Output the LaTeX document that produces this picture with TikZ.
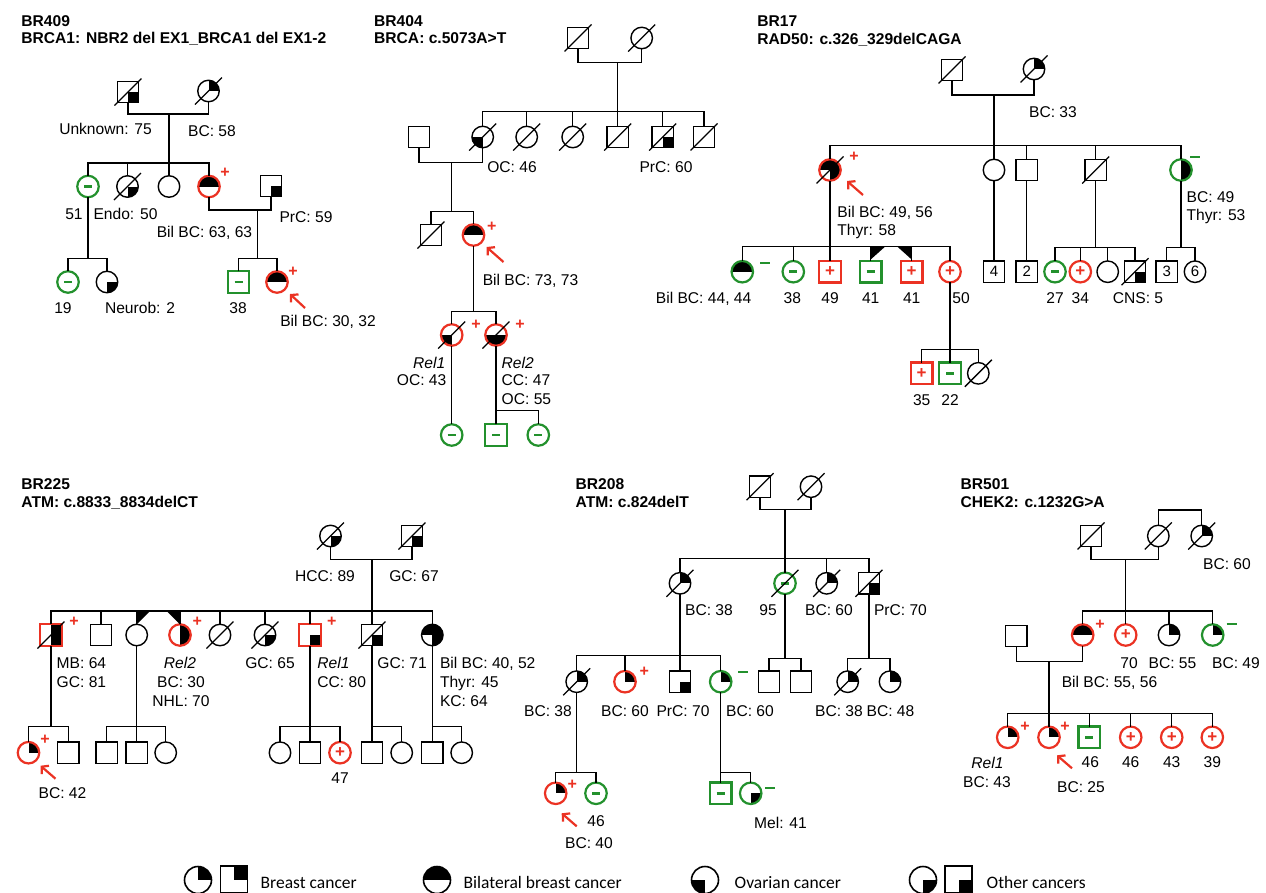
\documentclass[tikz,border=0pt]{standalone}
\usepackage{fontspec}
\setmainfont{Liberation Sans}
\newfontfamily\legfont{Carlito}
\usetikzlibrary{arrows.meta}
\definecolor{pred}{RGB}{235,50,35}
\definecolor{pgreen}{RGB}{35,145,45}
\newcommand\psize{10.75}
\newcommand\Fm[5][]{%
  \ifx\relax#1\relax\else
    \begin{scope}\clip #4 circle[radius=\psize];
      \foreach \qa/\qb in {#1}{\fill #4 rectangle ++(\psize*\qa,\psize*\qb);}
    \end{scope}\fi
  \node[fem,#2] (#3) at #4 {#5};}
\newcommand\Ml[5][]{%
  \ifx\relax#1\relax\else
    \foreach \qa/\qb in {#1}{\fill #4 rectangle ++(\psize*\qa,\psize*\qb);}\fi
  \node[mal,#2] (#3) at #4 {#5};}
\newcommand\Dec[1]{\draw[slash] ([shift={(-13.5,13.5)}]#1.center) -- ([shift={(13.5,-13.5)}]#1.center);}
\newcommand\Prob[5]{\draw[parrow] ([shift={(#2,#3)}]#1.center) -- ([shift={(#4,#5)}]#1.center);}
\newcommand\Lab[4][center]{\node[lab,anchor=#1] (#2) at #3 {#4};}
\newcommand\Pm[2]{\node[pmark] (#1) at #2 {+};}
\newcommand\Nm[2]{\node[nmark] (#1) at #2 {\rule{10pt}{2.2pt}};}
\newcommand\MI{\rule{8pt}{2.6pt}}
\begin{document}
\begin{tikzpicture}[x=1pt,y=-1pt,line width=1.4pt,
 ind/.style={minimum size=21.5pt,inner sep=0pt,outer sep=0pt,draw=black,font=\fontsize{15}{15}\selectfont},
 fem/.style={ind,circle},
 mal/.style={ind,rectangle},
 pcar/.style={draw=pred,text=pred,line width=2.2pt,font=\bfseries\fontsize{17}{17}\selectfont},
 ncar/.style={draw=pgreen,text=pgreen,line width=2.2pt},
 lab/.style={inner sep=0pt,text height=11.2pt,text depth=0pt,font=\fontsize{15.6}{18}\selectfont},
 ttl/.style={lab,anchor=west,font=\bfseries\fontsize{15.6}{18}\selectfont},
 slash/.style={line width=1.3pt},
 parrow/.style={draw=pred,line width=2.2pt,-{Straight Barb[length=5pt,width=11pt]}},
 pmark/.style={inner sep=0pt,text=pred,font=\bfseries\fontsize{16}{16}\selectfont},
 nmark/.style={inner sep=0pt,text=pgreen},
 legt/.style={inner sep=0pt,anchor=base west,font=\legfont\fontsize{17.5}{20}\selectfont},
 lsym/.style={minimum size=27pt,line width=1.6pt}
]
\fill[white] (0,0) rectangle (1266,892);
\useasboundingbox (0,0) rectangle (1266,892);

%% ================= BR409
\node[ttl] (tA1) at (20.7,20.8) {BR409};
\node[ttl] (tA2) at (20.7,38.3) {BRCA1: NBR2 del EX1\_BRCA1 del EX1-2};
\Ml[1/1]{}{A1}{(128,92)}{} \Dec{A1}
\Fm[1/-1]{}{A2}{(208.5,91)}{} \Dec{A2}
\coordinate (Am1) at (169,114);
\coordinate (As1) at (169,163);
\draw (A1.south) |- (Am1) -| (A2.south);
\draw (Am1) -- (As1);
\Fm{ncar}{A3}{(88,186.5)}{\MI}
\Fm[1/1]{}{A4}{(127.5,186.5)}{} \Dec{A4}
\Fm{}{A5}{(169,186.5)}{}
\Fm[-1/-1,1/-1]{pcar}{A6}{(209,186.5)}{}
\draw (A3.north) |- (As1) -| (A6.north);
\draw (A4.north) -- (A4.north |- As1);
\draw (A5.north) -- (As1);
\Ml[1/1]{}{A7}{(271,186)}{}
\coordinate (Am2) at (257.7,210);
\coordinate (As2) at (257.7,258.3);
\draw (A6.south) |- (Am2) -| (A7.south);
\draw (Am2) -- (As2);
\Ml{ncar}{A8}{(238.5,282)}{\MI}
\Fm[-1/-1,1/-1]{pcar}{A9}{(277,282)}{}
\draw (A8.north) |- (As2) -| (A9.north);
\coordinate (As3) at (88,258.3);
\draw (A3.south) -- (As3);
\Fm{ncar}{A10}{(68,282)}{\MI}
\Fm[1/1]{}{A11}{(107,282)}{}
\draw (A10.north) |- (As3) -| (A11.north);
\Pm{pA1}{(225,173)} \Pm{pA2}{(293,272)}
\Prob{A9}{28}{26}{13}{12}
\Lab{lA1}{(105.5,129)}{Unknown: 75}
\Lab{lA2}{(212,131)}{BC: 58}
\Lab{lA3}{(74,214)}{51}
\Lab{lA4}{(125.5,214)}{Endo: 50}
\Lab{lA5}{(306,217)}{PrC: 59}
\Lab{lA6}{(204.5,231.7)}{Bil BC: 63, 63}
\Lab{lA7}{(63,308)}{19}
\Lab{lA8}{(140,308)}{Neurob: 2}
\Lab{lA9}{(238,308)}{38}
\Lab{lA10}{(328,321)}{Bil BC: 30, 32}

%% ================= BR404
\node[ttl] (tB1) at (373.5,20.8) {BR404};
\node[ttl] (tB2) at (373.5,38.3) {BRCA: c.5073A>T};
\Ml{}{B1}{(578,38)}{} \Dec{B1}
\Fm{}{B2}{(641.7,38)}{} \Dec{B2}
\coordinate (Bm1) at (617.7,62.7); \coordinate (Bs1) at (617.7,111.7);
\draw (B1.south) |- (Bm1) -| (B2.south); \draw (Bm1) -- (Bs1);
\Fm[-1/1]{}{B3}{(482.7,137)}{} \Dec{B3}
\Fm{}{B4}{(526.7,137)}{} \Dec{B4}
\Fm{}{B5}{(572.7,137)}{} \Dec{B5}
\Ml{}{B6}{(617.7,137)}{} \Dec{B6}
\Ml[1/1]{}{B7}{(662.7,137)}{} \Dec{B7}
\Ml{}{B8}{(704,137)}{} \Dec{B8}
\draw (B3.north) |- (Bs1) -| (B8.north);
\foreach \nn in {B4,B5,B6,B7} \draw (\nn.north) -- (\nn.north |- Bs1);
\Ml{}{B9}{(419,137)}{}
\coordinate (Bm2) at (451.7,162.3); \coordinate (Bs2) at (451.7,211.7);
\draw (B9.south) |- (Bm2) -| (B3.south); \draw (Bm2) -- (Bs2);
\Ml{}{B10}{(431,235)}{} \Dec{B10}
\Fm[-1/-1,1/-1]{pcar}{B11}{(473.5,235)}{}
\draw (B10.north) |- (Bs2) -| (B11.north);
\coordinate (Bs3) at (473.5,311.7);
\draw (B11.south) -- (Bs3);
\Fm[-1/1]{pcar}{B12}{(451.7,335)}{} \Dec{B12}
\Fm[-1/1,1/1]{pcar}{B13}{(496,335)}{} \Dec{B13}
\draw (B12.north) |- (Bs3) -| (B13.north);
\Fm{ncar}{B14}{(451.7,435)}{\MI}
\draw (B12.south) -- (B14.north);
\coordinate (Bs4) at (496,410.7);
\Ml{ncar}{B15}{(496,435)}{\MI}
\Fm{ncar}{B16}{(538.3,435)}{\MI}
\draw (B13.south) -- (Bs4); \draw (B15.north) -- (Bs4) -| (B16.north);
\Pm{pB1}{(491.7,226.7)} \Pm{pB2}{(476,325)} \Pm{pB3}{(520,325)}
\Prob{B11}{30}{27}{13}{12}
\Lab{lB1}{(512,166.7)}{OC: 46}
\Lab{lB2}{(666,166.7)}{PrC: 60}
\Lab{lB3}{(530.5,280)}{Bil BC: 73, 73}
\Lab[east]{lB4}{(446,362.7)}{\itshape Rel1}
\Lab[east]{lB5}{(447,380)}{OC: 43}
\Lab[west]{lB6}{(501,362.7)}{\itshape Rel2}
\Lab[west]{lB7}{(501,380)}{CC: 47}
\Lab[west]{lB8}{(501,399.3)}{OC: 55}

%% ================= BR17
\node[ttl] (tC1) at (756.7,21.3) {BR17};
\node[ttl] (tC2) at (756.7,38.5) {RAD50: c.326\_329delCAGA};
\Ml{}{C1}{(952,70)}{} \Dec{C1}
\Fm[1/-1]{}{C2}{(1034,69)}{} \Dec{C2}
\coordinate (Cm1) at (994,95); \coordinate (Cs1) at (994,145.7);
\draw (C1.south) |- (Cm1) -| (C2.south); \draw (Cm1) -- (Cs1);
\Fm[-1/-1,1/-1,1/1]{pcar}{C3}{(830,170)}{} \Dec{C3}
\Fm{}{C4}{(994,170)}{}
\Ml{}{C5}{(1026.7,170)}{}
\Ml{}{C6}{(1095.7,170)}{} \Dec{C6}
\Fm[1/-1,1/1]{ncar}{C7}{(1181,170)}{}
\draw (C3.north) |- (Cs1) -| (C7.north);
\foreach \nn in {C4,C5,C6} \draw (\nn.north) -- (\nn.north |- Cs1);
\Pm{pC1}{(854,156.7)} \Nm{nC1}{(1195,156.7)}
\Prob{C3}{33}{25}{17}{11}
\Lab{lC1}{(1053,111.7)}{BC: 33}
\Lab[west]{lC2}{(836.7,212.3)}{Bil BC: 49, 56}
\Lab[west]{lC3}{(836.7,230)}{Thyr: 58}
\Lab[west]{lC4}{(1186,196.7)}{BC: 49}
\Lab[west]{lC5}{(1186,215)}{Thyr: 53}
\coordinate (Cs2) at (830,246.7); \draw (C3.south) -- (Cs2);
\Fm[-1/-1,1/-1]{ncar}{C8}{(742.3,271.7)}{}
\Fm{ncar}{C9}{(793.3,271.7)}{\MI}
\Ml{pcar}{C10}{(830,271.7)}{+}
\Ml{ncar}{C11}{(870.7,271.7)}{\MI}
\Ml{pcar}{C12}{(911.7,271.7)}{+}
\Fm{pcar}{C13}{(950,271.7)}{+}
\draw (C8.north) |- (Cs2) -| (C13.north);
\foreach \nn in {C9,C11,C12} \draw (\nn.north) -- (\nn.north |- Cs2);
\draw (C10.north) -- (Cs2);
\fill (870.7,246.7) -- (885,246.7) -- (870.7,259.5) -- cycle;
\fill (897.4,246.7) -- (911.7,246.7) -- (911.7,259.5) -- cycle;
\Nm{nC2}{(765,263.3)}
\Lab[east]{lC6}{(752,297.7)}{Bil BC: 44, 44}
\Lab{lC7}{(792.3,297.7)}{38}
\Lab{lC8}{(830,297.7)}{49}
\Lab{lC9}{(870.7,297.7)}{41}
\Lab{lC10}{(911.7,297.7)}{41}
\Lab{lC11}{(961,297.7)}{50}
\coordinate (Cs3) at (950,349.3); \draw (C13.south) -- (Cs3);
\Ml{pcar}{C14}{(921.7,373.3)}{+}
\Ml{ncar}{C15}{(950,373.3)}{\MI}
\Fm{}{C16}{(978.3,373.3)}{} \Dec{C16}
\draw (C14.north) |- (Cs3) -| (C16.north); \draw (C15.north) -- (Cs3);
\Lab{lC12}{(921.7,400)}{35}
\Lab{lC13}{(950,400)}{22}
\Ml{}{C17}{(994,271.7)}{4} \draw (C4.south) -- (C17.north);
\Ml{}{C18}{(1026.7,271.7)}{2} \draw (C5.south) -- (C18.north);
\coordinate (Cs4) at (1095.7,247.3); \draw (C6.south) -- (Cs4);
\Fm{ncar}{C19}{(1055,271.7)}{\MI}
\Fm{pcar}{C20}{(1080.3,271.7)}{+}
\Fm{}{C21}{(1107.7,271.7)}{}
\Ml[1/1]{}{C22}{(1135,271.7)}{} \Dec{C22}
\draw (C19.north) |- (Cs4) -| (C22.north);
\foreach \nn in {C20,C21} \draw (\nn.north) -- (\nn.north |- Cs4);
\coordinate (Cs5) at (1181,247.7); \draw (C7.south) -- (Cs5);
\Ml{}{C23}{(1166.7,271.7)}{3}
\Fm{}{C24}{(1195,271.7)}{6}
\draw (C23.north) |- (Cs5) -| (C24.north);
\Lab{lC14}{(1055,297.7)}{27}
\Lab{lC15}{(1080.3,297.7)}{34}
\Lab{lC16}{(1138,297.7)}{CNS: 5}

%% ================= BR225
\node[ttl] (tD1) at (20.7,484) {BR225};
\node[ttl] (tD2) at (20.7,502) {ATM: c.8833\_8834delCT};
\Fm[1/1]{}{D1}{(330.5,536)}{} \Dec{D1}
\Ml[1/1]{}{D2}{(412,536)}{} \Dec{D2}
\coordinate (Dm1) at (372,559.3); \coordinate (Ds1) at (372,611);
\draw (D1.south) |- (Dm1) -| (D2.south); \draw (Dm1) -- (Ds1);
\Ml[1/-1,1/1]{pcar}{D3}{(51,635)}{} \Dec{D3}
\Ml{}{D4}{(101,635)}{}
\Fm{}{D5}{(136.7,635)}{}
\Fm[1/-1,1/1]{pcar}{D6}{(180,635)}{}
\Fm{}{D7}{(220,635)}{} \Dec{D7}
\Fm[1/1]{}{D8}{(265,635)}{} \Dec{D8}
\Ml[1/1]{pcar}{D9}{(310,635)}{}
\Ml[1/1]{}{D10}{(372,635)}{} \Dec{D10}
\Fm[-1/-1,1/-1,1/1]{}{D11}{(432.3,635)}{}
\draw (D3.north) |- (Ds1) -| (D11.north);
\foreach \nn in {D4,D5,D6,D7,D8,D9} \draw (\nn.north) -- (\nn.north |- Ds1);
\draw (D10.north) -- (Ds1);
\fill (136.7,611) -- (150,611) -- (136.7,624.5) -- cycle;
\fill (166.7,611) -- (180,611) -- (180,624.5) -- cycle;
\Pm{pD1}{(74,621.7)} \Pm{pD2}{(197.3,621.7)} \Pm{pD3}{(331.7,621.7)}
\Lab{lD1}{(325,575.7)}{HCC: 89}
\Lab{lD2}{(414,575.7)}{GC: 67}
\Lab[west]{lD3}{(56,663.3)}{MB: 64}
\Lab[west]{lD4}{(56,681.7)}{GC: 81}
\Lab{lD5}{(180,662.7)}{\itshape Rel2}
\Lab{lD6}{(181,681.7)}{BC: 30}
\Lab{lD7}{(181,700.7)}{NHL: 70}
\Lab{lD8}{(270,663.3)}{GC: 65}
\Lab[west]{lD9}{(316.7,663.3)}{\itshape Rel1}
\Lab[west]{lD10}{(316.7,681.7)}{CC: 80}
\Lab[west]{lD11}{(376.7,663.3)}{GC: 71}
\Lab[west]{lD12}{(439.3,663.3)}{Bil BC: 40, 52}
\Lab[west]{lD13}{(439.3,681.7)}{Thyr: 45}
\Lab[west]{lD14}{(439.3,700.7)}{KC: 64}
\coordinate (Ds2) at (51,726.7); \draw (D3.south) -- (Ds2);
\Fm[1/-1]{pcar}{D12}{(28.5,752.7)}{}
\Ml{}{D13}{(68.3,752.7)}{}
\draw (D12.north) |- (Ds2) -| (D13.north);
\Pm{pD4}{(45,740)}
\Prob{D12}{27}{26}{12}{13}
\Lab{lD15}{(62.5,792.7)}{BC: 42}
\coordinate (Ds3) at (136.7,726.7); \draw (D5.south) -- (Ds3);
\Ml{}{D14}{(106.7,752.7)}{}
\Ml{}{D15}{(136.7,752.7)}{}
\Fm{}{D16}{(165.7,752.7)}{}
\draw (D14.north) |- (Ds3) -| (D16.north); \draw (D15.north) -- (Ds3);
\coordinate (Ds4) at (310,726.7); \draw (D9.south) -- (Ds4);
\Fm{}{D17}{(280,752.7)}{}
\Ml{}{D18}{(310,752.7)}{}
\Fm{pcar}{D19}{(340,752.7)}{+}
\draw (D17.north) |- (Ds4) -| (D19.north); \draw (D18.north) -- (Ds4);
\Lab{lD16}{(340,778.3)}{47}
\coordinate (Ds5) at (372,726.7); \draw (D10.south) -- (Ds5);
\Ml{}{D20}{(372,752.7)}{}
\Fm{}{D21}{(401.7,752.7)}{}
\draw (D20.north) -- (Ds5) -| (D21.north);
\coordinate (Ds6) at (432.3,726.7); \draw (D11.south) -- (Ds6);
\Ml{}{D22}{(432.3,752.7)}{}
\Fm{}{D23}{(461.7,752.7)}{}
\draw (D22.north) -- (Ds6) -| (D23.north);

%% ================= BR208
\node[ttl] (tE1) at (575,483.8) {BR208};
\node[ttl] (tE2) at (575,502) {ATM: c.824delT};
\Ml{}{E1}{(760,486.7)}{} \Dec{E1}
\Fm{}{E2}{(811,486.7)}{} \Dec{E2}
\coordinate (Em1) at (785,509.3); \coordinate (Es1) at (785,558.3);
\draw (E1.south) |- (Em1) -| (E2.south); \draw (Em1) -- (Es1);
\Fm[1/-1]{}{E3}{(680,583.3)}{} \Dec{E3}
\Fm{ncar}{E4}{(785,583.3)}{\MI} \Dec{E4}
\Fm[1/-1]{}{E5}{(826.7,583.3)}{} \Dec{E5}
\Ml[1/1]{}{E6}{(869,583.3)}{} \Dec{E6}
\draw (E3.north) |- (Es1) -| (E6.north);
\draw (E5.north) -- (E5.north |- Es1); \draw (E4.north) -- (Es1);
\Lab{lE1}{(709,610)}{BC: 38}
\Lab{lE2}{(768,610)}{95}
\Lab{lE3}{(829,610)}{BC: 60}
\Lab[west]{lE4}{(873.3,610)}{PrC: 70}
\coordinate (Es2) at (680,655.7); \draw (E3.south) -- (Es2);
\Fm[1/-1]{}{E7}{(576.7,681.7)}{} \Dec{E7}
\Fm[1/-1]{pcar}{E8}{(625,681.7)}{}
\Ml[1/1]{}{E9}{(680,681.7)}{}
\Fm[1/-1]{ncar}{E10}{(720.7,681.7)}{}
\draw (E7.north) |- (Es2) -| (E10.north);
\draw (E8.north) -- (E8.north |- Es2); \draw (E9.north) -- (Es2);
\Pm{pE1}{(644.3,671.7)} \Nm{nE1}{(743.3,671.7)}
\Lab{lE5}{(548,710.7)}{BC: 38}
\Lab{lE6}{(625,710.7)}{BC: 60}
\Lab{lE7}{(683,710.7)}{PrC: 70}
\Lab{lE8}{(750,710.7)}{BC: 60}
\coordinate (Es3) at (785,658.3); \draw (E4.south) -- (Es3);
\Ml{}{E11}{(769,681.7)}{}
\Ml{}{E12}{(801,681.7)}{}
\draw (E11.north) |- (Es3) -| (E12.north);
\coordinate (Es4) at (869,658.3); \draw (E6.south) -- (Es4);
\Fm[1/-1]{}{E13}{(847.7,681.7)}{} \Dec{E13}
\Fm[1/-1]{}{E14}{(890,681.7)}{}
\draw (E13.north) |- (Es4) -| (E14.north);
\Lab{lE9}{(839,710.7)}{BC: 38}
\Lab{lE10}{(890.5,710.7)}{BC: 48}
\coordinate (Es5) at (576.7,772.3); \draw (E7.south) -- (Es5);
\Fm[1/-1]{pcar}{E15}{(555.7,793.3)}{}
\Fm{ncar}{E16}{(596,793.3)}{\MI}
\draw (E15.north) |- (Es5) -| (E16.north);
\Pm{pE2}{(572.3,785)}
\Prob{E15}{21}{33}{6}{20}
\Lab{lE11}{(589,842.7)}{BC: 40}
\Lab{lE12}{(596,821)}{46}
\coordinate (Es6) at (720.7,772.7); \draw (E10.south) -- (Es6);
\Ml{ncar}{E17}{(720.7,793.3)}{\MI}
\Fm[1/1]{ncar}{E18}{(750.7,793.3)}{}
\draw (E17.north) -- (Es6) -| (E18.north);
\Nm{nE2}{(770,788.3)}
\Lab{lE13}{(780.5,822.7)}{Mel: 41}

%% ================= BR501
\node[ttl] (tF1) at (960,484) {BR501};
\node[ttl] (tF2) at (960,502) {CHEK2: c.1232G>A};
\Ml{}{F1}{(1091,536)}{} \Dec{F1}
\Fm{}{F2}{(1158.3,536)}{} \Dec{F2}
\Fm[1/-1]{}{F3}{(1201.7,536)}{} \Dec{F3}
\coordinate (Ft) at (1180,510); \draw (F2.north) |- (Ft) -| (F3.north);
\coordinate (Fm1) at (1125.7,559.3); \coordinate (Fs1) at (1125.7,611);
\draw (F1.south) |- (Fm1) -| (F2.south); \draw (Fm1) -- (Fs1);
\Fm[-1/-1,1/-1]{pcar}{F4}{(1082.7,635)}{}
\Fm{pcar}{F5}{(1125.7,635)}{+}
\Fm[1/-1]{}{F6}{(1169,635)}{}
\Fm[1/-1]{ncar}{F7}{(1212.7,635)}{}
\draw (F4.north) |- (Fs1) -| (F7.north);
\draw (F6.north) -- (F6.north |- Fs1); \draw (F5.north) -- (Fs1);
\Pm{pF1}{(1100,625)} \Nm{nF1}{(1231.7,624)}
\Lab{lF1}{(1227,564.3)}{BC: 60}
\Lab{lF2}{(1129,662.7)}{70}
\Lab{lF3}{(1172.5,662.7)}{BC: 55}
\Lab{lF4}{(1236,662.7)}{BC: 49}
\Lab{lF5}{(1109.5,681.7)}{Bil BC: 55, 56}
\Ml{}{F8}{(1016.3,636)}{}
\coordinate (Fm2) at (1049,661.7); \coordinate (Fs2) at (1049,713.3);
\draw (F8.south) |- (Fm2) -| (F4.south); \draw (Fm2) -- (Fs2);
\Fm[1/-1]{pcar}{F9}{(1007.7,737.3)}{}
\Fm[1/-1]{pcar}{F10}{(1049,737.3)}{}
\Ml{ncar}{F11}{(1089.3,737.3)}{\MI}
\Fm{pcar}{F12}{(1130.7,737.3)}{+}
\Fm{pcar}{F13}{(1171.7,737.3)}{+}
\Fm{pcar}{F14}{(1212.3,737.3)}{+}
\draw (F9.north) |- (Fs2) -| (F14.north);
\foreach \nn in {F11,F12,F13} \draw (\nn.north) -- (\nn.north |- Fs2);
\draw (F10.north) -- (Fs2);
\Pm{pF2}{(1025,726.7)} \Pm{pF3}{(1065,726.7)}
\Prob{F10}{23}{31}{8}{18}
\Lab{lF6}{(987.5,763.3)}{\itshape Rel1}
\Lab{lF7}{(987,781.7)}{BC: 43}
\Lab{lF8}{(1081,786.7)}{BC: 25}
\Lab{lF9}{(1090.3,761.7)}{46}
\Lab{lF10}{(1130.7,761.7)}{46}
\Lab{lF11}{(1171.7,761.7)}{43}
\Lab{lF12}{(1212.3,761.7)}{39}

%% ================= Legend
\begin{scope}
\renewcommand\psize{13.5}
\Fm[1/-1]{lsym}{L1}{(198,880)}{}
\Ml[1/-1]{lsym}{L2}{(234,879.5)}{}
\node[legt] (L3) at (260,888) {Breast cancer};
\Fm[-1/-1,1/-1]{lsym}{L4}{(437,880)}{}
\node[legt] (L5) at (463,888) {Bilateral breast cancer};
\Fm[-1/1]{lsym}{L6}{(705,880)}{}
\node[legt] (L7) at (734,888) {Ovarian cancer};
\Fm[1/1]{lsym}{L8}{(923,880)}{}
\Ml[1/1]{lsym}{L9}{(958.5,879.5)}{}
\node[legt] (L10) at (986,888) {Other cancers};
\end{scope}
\end{tikzpicture}
\end{document}
